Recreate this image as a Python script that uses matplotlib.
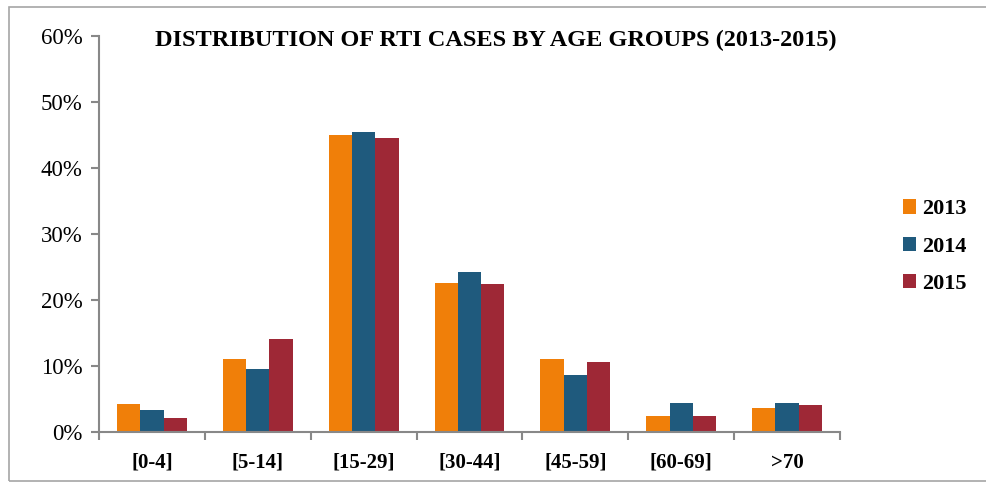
import numpy as np
import matplotlib
matplotlib.use("Agg")
import matplotlib.pyplot as plt
from matplotlib.patches import Rectangle
from matplotlib.ticker import PercentFormatter

groups = ["[0-4]", "[5-14]", "[15-29]", "[30-44]", "[45-59]", "[60-69]", ">70"]
years = ["2013", "2014", "2015"]
v2013 = [4.2, 11.1, 45.0, 22.5, 11.1, 2.4, 3.7]
v2014 = [3.4, 9.6, 45.5, 24.2, 8.6, 4.4, 4.4]
v2015 = [2.1, 14.1, 44.5, 22.4, 10.6, 2.4, 4.1]
colors = ["#F07F09", "#1F5A7D", "#9E2836"]

plt.rcParams['font.family'] = ['Liberation Serif', 'DejaVu Serif']

fig = plt.figure(figsize=(9.87, 4.83), dpi=100)
ax = fig.add_axes([0.1003, 0.1056, 0.7507, 0.8199])

# outer frame
fig.patches.append(Rectangle((9/987, 2/483), 1.0, 1 - 9/483, transform=fig.transFigure,
                             fill=False, edgecolor="#a6a6a6", lw=1.2))

x = np.arange(len(groups))
w = 0.22
for i, (vals, c, yr) in enumerate(zip([v2013, v2014, v2015], colors, years)):
    ax.bar(x + (i - 1) * w, vals, w, color=c, label=yr, edgecolor="none")

ax.set_xlim(-0.5, len(groups) - 0.5)
ax.set_ylim(0, 60)
ax.set_yticks(np.arange(0, 61, 10))
ax.yaxis.set_major_formatter(PercentFormatter(decimals=0))
ax.set_xticks(np.arange(-0.5, len(groups), 1.0))
ax.set_xticklabels([])
ax.set_xticks(x, minor=True)
ax.set_xticklabels(groups, minor=True, fontweight="bold", fontsize=15)
ax.tick_params(axis="x", which="minor", length=0, pad=15)
ax.tick_params(axis="x", which="major", length=6, width=1.5, color="#888888")
ax.tick_params(axis="y", length=6, width=1.5, color="#888888", labelsize=16.5, pad=6)

for s in ["top", "right"]:
    ax.spines[s].set_visible(False)
for s in ["left", "bottom"]:
    ax.spines[s].set_color("#888888")
    ax.spines[s].set_linewidth(1.5)

fig.text(0.502, 0.916, "DISTRIBUTION OF RTI CASES BY AGE GROUPS (2013-2015)",
         ha="center", va="center", fontsize=17.5, fontweight="bold")

leg = ax.legend(loc="center left", bbox_to_anchor=(1.058, 0.468), frameon=False,
                prop={"weight": "bold", "size": 16}, handlelength=0.6, handleheight=0.6,
                handletextpad=0.25, labelspacing=0.78)

fig.savefig("out.png", dpi=100)
